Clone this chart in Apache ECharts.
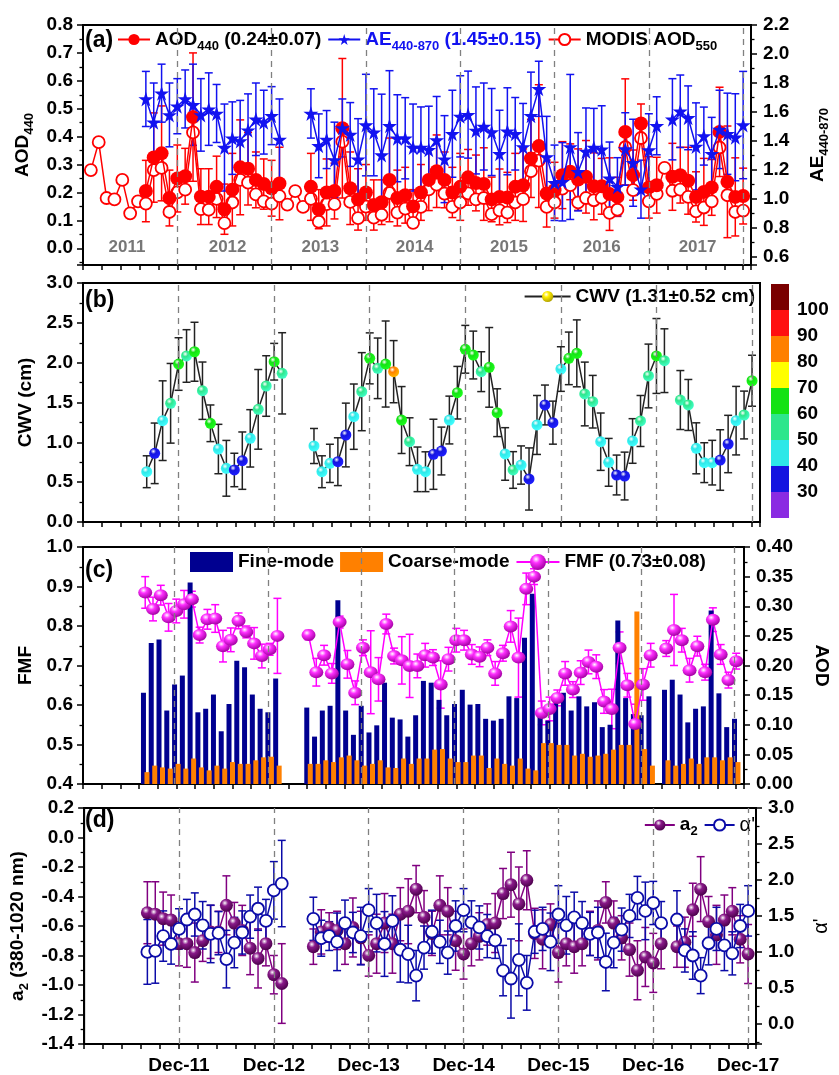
<!DOCTYPE html>
<html>
<head>
<meta charset="utf-8">
<script src="https://cdn.jsdelivr.net/npm/echarts@6.0.0/dist/echarts.min.js"></script>
<style>
  html, body { margin: 0; padding: 0; background: #fff; }
  #chart { width: 839px; height: 1075px; }
</style>
</head>
<body>
<div id="chart"></div>
<script>
// x = month index, 0 = Dec-2010, 12 = Dec-2011 ...
const decTicks = [12, 24, 36, 48, 60, 72, 84];
const decLabels = ['Dec-11', 'Dec-12', 'Dec-13', 'Dec-14', 'Dec-15', 'Dec-16', 'Dec-17'];
const yearLabels = ['2011', '2012', '2013', '2014', '2015', '2016', '2017'];
const yearPos = [5.6, 18.4, 30.2, 42.2, 54.2, 66, 78.2];

// MODIS AOD550, monthly from month 1
const modisStart = 1;
const modisAod = [
  0.28, 0.38, 0.18, 0.175, 0.245, 0.125, 0.168, 0.16, 0.28, 0.288,
  0.13, 0.2, 0.21, 0.415, 0.14, 0.138, 0.177, 0.09, 0.164, 0.245,
  0.235, 0.193, 0.168, 0.16, 0.187, 0.156, 0.205, 0.148, 0.177, 0.095,
  0.158, 0.158, 0.382, 0.166, 0.108, 0.149, 0.11, 0.12, 0.198, 0.128,
  0.142, 0.091, 0.148, 0.211, 0.228, 0.196, 0.148, 0.164, 0.197, 0.175,
  0.18, 0.122, 0.136, 0.128, 0.164, 0.176, 0.276, 0.314, 0.148, 0.164,
  0.214, 0.226, 0.164, 0.18, 0.172, 0.181, 0.127, 0.138, 0.362, 0.208,
  0.395, 0.168, 0.195, 0.288, 0.206, 0.21, 0.184, 0.132, 0.146, 0.168,
  0.361, 0.19, 0.13, 0.135
];

// AERONET monthly values from month 8 (null = no data)
const aeroStart = 8;
const aod440 = [
  0.205, 0.325, 0.34, 0.18, 0.25, 0.258, 0.47, 0.185, 0.185, 0.22,
  0.14, 0.21, 0.29, 0.285, 0.245, 0.23, 0.215, 0.232, null, null,
  null, 0.22, 0.14, 0.2, 0.205, 0.43, 0.215, 0.175, 0.2, 0.155,
  0.165, 0.245, 0.18, 0.19, 0.15, 0.2, 0.245, 0.276, 0.245, 0.2,
  0.22, 0.254, 0.234, 0.23, 0.175, 0.184, 0.182, 0.22, 0.226, 0.322,
  0.366, 0.196, 0.208, 0.262, 0.274, 0.246, 0.256, 0.222, 0.222, 0.194,
  0.184, 0.417, 0.262, 0.447, 0.218, 0.226, null, 0.256, 0.262, 0.242,
  0.184, 0.202, 0.218, 0.417, 0.238, 0.184, 0.187
];
const aodErr = [
  0.11, 0.16, 0.17, 0.1, 0.12, 0.1, 0.23, 0.1, 0.1, 0.11,
  0.09, 0.13, 0.17, 0.13, 0.1, 0.09, 0.1, 0.13, null, null,
  null, 0.12, 0.07, 0.12, 0.1, 0.25, 0.13, 0.11, 0.1, 0.09,
  0.08, 0.15, 0.1, 0.1, 0.06, 0.1, 0.11, 0.13, 0.1, 0.09,
  0.12, 0.1, 0.1, 0.13, 0.08, 0.1, 0.09, 0.12, 0.13, 0.14,
  0.22, 0.12, 0.1, 0.12, 0.1, 0.11, 0.13, 0.12, 0.1, 0.13,
  0.07, 0.19, 0.09, 0.07, 0.11, 0.1, null, 0.12, 0.1, 0.12,
  0.09, 0.12, 0.1, 0.16, 0.2, 0.14, 0.1
];
const ae440870 = [
  1.69, 1.53, 1.73, 1.58, 1.64, 1.69, 1.65, 1.58, 1.62, 1.59,
  1.355, 1.42, 1.4, 1.475, 1.55, 1.53, 1.575, 1.41, null, null,
  null, 1.59, 1.367, 1.41, 1.27, 1.49, 1.445, 1.274, 1.51, 1.46,
  1.303, 1.505, 1.419, 1.419, 1.355, 1.355, 1.34, 1.407, 1.275, 1.45,
  1.57, 1.582, 1.473, 1.5, 1.462, 1.312, 1.467, 1.45, 1.359, 1.575,
  1.76, 1.29, 1.112, 1.119, 1.359, 1.188, 1.328, 1.355, 1.343, 1.143,
  1.085, 1.345, 1.25, 1.068, 1.338, 1.505, null, 1.55, 1.605, 1.56,
  1.363, 1.434, 1.313, 1.48, 1.45, 1.426, 1.51
];
const aeErr = [
  0.19, 0.27, 0.2, 0.22, 0.19, 0.2, 0.28, 0.25, 0.25, 0.2,
  0.3, 0.25, 0.28, 0.25, 0.25, 0.22, 0.2, 0.28, null, null,
  null, 0.17, 0.22, 0.2, 0.26, 0.2, 0.22, 0.28, 0.35, 0.3,
  0.42, 0.38, 0.3, 0.28, 0.3, 0.28, 0.3, 0.3, 0.3, 0.3,
  0.28, 0.3, 0.3, 0.3, 0.3, 0.3, 0.3, 0.25, 0.3, 0.3,
  0.19, 0.28, 0.26, 0.27, 0.5, 0.27, 0.3, 0.27, 0.3, 0.25,
  0.2, 0.25, 0.3, 0.2, 0.25, 0.2, null, 0.28, 0.25, 0.22,
  0.3, 0.2, 0.25, 0.27, 0.28, 0.3, 0.37
];
const cwv = [
  0.631, 0.862, 1.272, 1.49, 1.983, 2.084, 2.137, 1.648, 1.239, 0.916,
  0.674, 0.653, 0.77, 1.05, 1.414, 1.707, 2.012, 1.866, null, null,
  null, 0.954, 0.631, 0.736, 0.757, 1.092, 1.322, 1.636, 2.054, 1.929,
  1.983, 1.887, 1.28, 1.008, 0.661, 0.631, 0.85, 0.891, 1.28, 1.623,
  2.168, 2.096, 1.887, 1.941, 1.372, 0.854, 0.653, 0.715, 0.54, 1.218,
  1.469, 1.247, 1.92, 2.054, 2.117, 1.607, 1.51, 1.008, 0.749, 0.59,
  0.577, 1.017, 1.268, 1.833, 2.084, 2.025, null, 1.531, 1.469, 0.925,
  0.745, 0.745, 0.778, 0.979, 1.272, 1.343, 1.773
];
const cwvErr = [
  0.2, 0.38, 0.5, 0.5, 0.33, 0.33, 0.37, 0.36, 0.23, 0.31,
  0.35, 0.21, 0.36, 0.36, 0.5, 0.38, 0.23, 0.51, null, null,
  null, 0.22, 0.2, 0.24, 0.3, 0.4, 0.41, 0.49, 0.32, 0.38,
  0.54, 0.39, 0.42, 0.3, 0.28, 0.25, 0.44, 0.3, 0.3, 0.33,
  0.3, 0.3, 0.25, 0.5, 0.3, 0.33, 0.23, 0.24, 0.39, 0.37,
  0.25, 0.27, 0.28, 0.33, 0.42, 0.4, 0.33, 0.36, 0.3, 0.25,
  0.3, 0.28, 0.32, 0.4, 0.47, 0.4, null, 0.37, 0.32, 0.32,
  0.25, 0.28, 0.38, 0.36, 0.43, 0.3, 0.32
];
// colour-bar value of each CWV point
const cwvColorVal = [
  45, 35, 45, 55, 65, 55, 65, 55, 65, 45,
  45, 35, 35, 45, 55, 55, 65, 55, null, null,
  null, 45, 45, 45, 35, 35, 45, 55, 65, 55,
  65, 85, 65, 55, 45, 45, 35, 35, 45, 65,
  65, 65, 55, 65, 65, 45, 55, 45, 35, 45,
  35, 35, 45, 65, 65, 55, 55, 45, 45, 35,
  35, 45, 55, 55, 65, 55, null, 55, 55, 45,
  45, 45, 35, 35, 45, 55, 65
];
const fineAod = [
  0.154, 0.238, 0.244, 0.124, 0.168, 0.183, 0.34, 0.121, 0.127, 0.151,
  0.089, 0.135, 0.208, 0.197, 0.151, 0.127, 0.121, 0.178, null, null,
  null, 0.129, 0.08, 0.124, 0.132, 0.31, 0.124, 0.083, 0.132, 0.087,
  0.099, 0.171, 0.112, 0.109, 0.08, 0.116, 0.174, 0.171, 0.142, 0.116,
  0.135, 0.159, 0.134, 0.135, 0.11, 0.107, 0.11, 0.148, 0.145, 0.247,
  0.321, 0.119, 0.107, 0.152, 0.154, 0.124, 0.148, 0.131, 0.138, 0.096,
  0.1, 0.276, 0.145, 0.118, 0.116, 0.148, null, 0.159, 0.176, 0.151,
  0.104, 0.127, 0.131, 0.293, 0.153, 0.096, 0.11
];
const coarseAod = [
  0.02, 0.031, 0.028, 0.026, 0.034, 0.026, 0.043, 0.028, 0.023, 0.031,
  0.026, 0.037, 0.034, 0.034, 0.04, 0.045, 0.046, 0.031, null, null,
  null, 0.034, 0.034, 0.04, 0.037, 0.045, 0.048, 0.04, 0.031, 0.034,
  0.04, 0.028, 0.027, 0.043, 0.034, 0.043, 0.043, 0.058, 0.059, 0.043,
  0.037, 0.037, 0.048, 0.048, 0.027, 0.043, 0.034, 0.031, 0.043, 0.026,
  0.023, 0.069, 0.069, 0.066, 0.066, 0.048, 0.051, 0.046, 0.048, 0.051,
  0.058, 0.066, 0.066, 0.291, 0.059, 0.031, null, 0.04, 0.031, 0.034,
  0.043, 0.034, 0.045, 0.045, 0.04, 0.045, 0.037
];
const fmf = [
  0.885, 0.843, 0.878, 0.822, 0.838, 0.855, 0.868, 0.777, 0.817, 0.819,
  0.749, 0.765, 0.813, 0.785, 0.756, 0.724, 0.741, 0.775, null, null,
  null, 0.777, 0.683, 0.726, 0.68, 0.81, 0.703, 0.631, 0.745, 0.683,
  0.665, 0.805, 0.724, 0.713, 0.699, 0.699, 0.726, 0.72, 0.652, 0.716,
  0.764, 0.764, 0.728, 0.722, 0.745, 0.68, 0.731, 0.799, 0.72, 0.894,
  0.925, 0.58, 0.59, 0.618, 0.68, 0.639, 0.682, 0.709, 0.697, 0.609,
  0.59, 0.745, 0.65, 0.552, 0.652, 0.726, null, 0.743, 0.79, 0.764,
  0.688, 0.749, 0.683, 0.816, 0.728, 0.663, 0.711
];
const fmfErr = [
  0.04, 0.03, 0.025, 0.035, 0.03, 0.035, 0.02, 0.02, 0.025, 0.035,
  0.04, 0.03, 0.02, 0.015, 0.04, 0.03, 0.015, 0.095, null, null,
  null, 0.012, 0.035, 0.025, 0.025, 0.015, 0.035, 0.03, 0.02, 0.105,
  0.055, 0.025, 0.02, 0.06, 0.08, 0.03, 0.03, 0.02, 0.06, 0.03,
  0.03, 0.025, 0.025, 0.025, 0.02, 0.03, 0.02, 0.04, 0.1, 0.04,
  0.02, 0.03, 0.03, 0.02, 0.03, 0.02, 0.03, 0.03, 0.03, 0.03,
  0.05, 0.04, 0.03, 0.05, 0.04, 0.03, null, 0.02, 0.09, 0.03,
  0.03, 0.025, 0.02, 0.03, 0.025, 0.02, 0.02
];
const a2 = [
  -0.51, -0.52, -0.55, -0.56, -0.72, -0.72, -0.78, -0.7, -0.64, -0.64,
  -0.46, -0.58, -0.63, -0.75, -0.82, -0.72, -0.93, -0.99, null, null,
  null, -0.74, -0.64, -0.61, -0.63, -0.72, -0.61, -0.68, -0.8, -0.72,
  -0.58, -0.72, -0.52, -0.5, -0.35, -0.54, -0.65, -0.46, -0.5, -0.7,
  -0.79, -0.72, -0.67, -0.59, -0.58, -0.38, -0.32, -0.45, -0.29, -0.65,
  -0.69, -0.59, -0.78, -0.72, -0.74, -0.72, -0.65, -0.63, -0.44, -0.58,
  -0.68, -0.76, -0.9, -0.81, -0.85, -0.72, null, -0.74, -0.71, -0.49,
  -0.35, -0.57, -0.66, -0.56, -0.5, -0.69, -0.79
];
const a2Err = [
  0.21, 0.22, 0.18, 0.17, 0.15, 0.16, 0.2, 0.14, 0.18, 0.14,
  0.2, 0.14, 0.17, 0.18, 0.2, 0.15, 0.13, 0.27, null, null,
  null, 0.12, 0.15, 0.1, 0.13, 0.14, 0.2, 0.18, 0.14, 0.2,
  0.2, 0.2, 0.18, 0.22, 0.16, 0.18, 0.15, 0.2, 0.16, 0.2,
  0.17, 0.15, 0.16, 0.14, 0.2, 0.17, 0.22, 0.25, 0.2, 0.17,
  0.2, 0.14, 0.2, 0.15, 0.18, 0.15, 0.15, 0.2, 0.14, 0.15,
  0.15, 0.18, 0.2, 0.2, 0.2, 0.17, null, 0.14, 0.17, 0.18,
  0.22, 0.17, 0.2, 0.17, 0.16, 0.16, 0.2
];
const alphaP = [
  1.0, 1.015, 1.22, 1.11, 1.32, 1.45, 1.52, 1.37, 1.25, 1.26,
  0.9, 1.13, 1.27, 1.49, 1.6, 1.43, 1.855, 1.95, null, null,
  null, 1.46, 1.19, 1.22, 1.14, 1.4, 1.27, 1.22, 1.58, 1.4,
  1.11, 1.43, 1.03, 0.97, 0.67, 1.06, 1.28, 1.14, 0.99, 1.36,
  1.58, 1.41, 1.34, 1.22, 1.16, 0.74, 0.63, 0.89, 0.57, 1.28,
  1.32, 1.14, 1.52, 1.37, 1.48, 1.4, 1.25, 1.27, 0.86, 1.13,
  1.31, 1.5, 1.75, 1.57, 1.68, 1.4, null, 1.45, 1.02, 0.95,
  0.67, 1.12, 1.32, 1.09, 0.98, 1.36, 1.57
];
const alphaErr = [
  0.45, 0.45, 0.35, 0.28, 0.28, 0.28, 0.3, 0.33, 0.4, 0.3,
  0.4, 0.35, 0.3, 0.3, 0.3, 0.3, 0.4, 0.6, null, null,
  null, 0.3, 0.25, 0.2, 0.4, 0.32, 0.28, 0.4, 0.3, 0.4,
  0.45, 0.35, 0.45, 0.4, 0.35, 0.3, 0.3, 0.3, 0.3, 0.35,
  0.3, 0.3, 0.3, 0.3, 0.25, 0.35, 0.55, 0.5, 0.38, 0.3,
  0.3, 0.4, 0.4, 0.4, 0.35, 0.3, 0.3, 0.35, 0.4, 0.35,
  0.3, 0.3, 0.3, 0.4, 0.3, 0.3, null, 0.4, 0.3, 0.33,
  0.25, 0.3, 0.3, 0.35, 0.3, 0.3, 0.35
];

// colour bar bands (20-30 ... 100-110)
const cbarBands = [20, 30, 40, 50, 60, 70, 80, 90, 100];
const cbarColors = ['#8a2be2', '#1515e0', '#2ee8e8', '#2ee68c', '#14e214', '#ffff00', '#ff8000', '#ff1010', '#7a0000'];

const FONT = 'Liberation Sans, Arial, sans-serif';
const RED = '#ff0000', BLUE = '#1212f0', NAVY = '#000090', ORANGE = '#ff8000';
const MAGENTA = '#ff00ff', PURPLE = '#800080', DBLUE = '#0b0ba8';
const STAR = 'path://M50,0 L61,35 L98,35 L68,57 L79,91 L50,70 L21,91 L32,57 L2,35 L39,35 Z';

function pts(arr, start) {
  return arr.map((v, i) => [start + i, v == null ? '-' : v]);
}
function errPts(arr, err, start) {
  const out = [];
  arr.forEach((v, i) => { if (v != null) out.push([start + i, v - err[i], v + err[i]]); });
  return out;
}
function sphere(c, dark) {
  return new echarts.graphic.RadialGradient(0.38, 0.32, 0.7, [
    { offset: 0, color: '#ffffff' },
    { offset: 0.35, color: c },
    { offset: 1, color: dark }
  ]);
}
function colorFor(v) {
  for (let i = cbarBands.length - 1; i >= 0; i--) if (v >= cbarBands[i]) return cbarColors[i];
  return cbarColors[0];
}
function errSeries(data, color, xi, yi, cap) {
  return {
    type: 'custom', xAxisIndex: xi, yAxisIndex: yi, data: data, clip: true, silent: true,
    encode: { x: 0, y: [1, 2] },
    renderItem: function (params, api) {
      const x = api.value(0);
      const t = api.coord([x, api.value(2)]);
      const b = api.coord([x, api.value(1)]);
      const st = { stroke: color, lineWidth: 1.5 };
      return {
        type: 'group', children: [
          { type: 'line', shape: { x1: t[0], y1: t[1], x2: b[0], y2: b[1] }, style: st },
          { type: 'line', shape: { x1: t[0] - cap, y1: t[1], x2: t[0] + cap, y2: t[1] }, style: st },
          { type: 'line', shape: { x1: b[0] - cap, y1: b[1], x2: b[0] + cap, y2: b[1] }, style: st }
        ]
      };
    }
  };
}
const decMarkLine = {
  silent: true, symbol: ['none', 'none'], label: { show: false },
  lineStyle: { color: '#808080', type: [6, 5], width: 1.3 },
  data: decTicks.map(v => ({ xAxis: v }))
};

const rich = {
  b: { fontSize: 19, fontWeight: 'bold', color: '#000', fontFamily: FONT, lineHeight: 26 },
  s: { fontSize: 13, fontWeight: 'bold', color: '#000', fontFamily: FONT, lineHeight: 13, verticalAlign: 'bottom' },
  bb: { fontSize: 19, fontWeight: 'bold', color: BLUE, fontFamily: FONT, lineHeight: 26 },
  bs: { fontSize: 13, fontWeight: 'bold', color: BLUE, fontFamily: FONT, lineHeight: 13, verticalAlign: 'bottom' },
  n: { fontSize: 20, fontWeight: 'normal', color: '#000', fontFamily: FONT, lineHeight: 26 }
};

const labelStyle = { fontSize: 19, fontWeight: 'bold', color: '#000', fontFamily: FONT };
const lineAx = { show: true, onZero: false, lineStyle: { color: '#000', width: 2 } };
const tickAx = { show: true, length: 6, lineStyle: { color: '#000', width: 1.5 } };
const minorAx = { show: true, splitNumber: 2, length: 3.5, lineStyle: { color: '#000', width: 1.3 } };

function xAxisFor(gi, withLabels) {
  return {
    type: 'value', gridIndex: gi, min: 0, max: 85, interval: 2.4,
    axisLine: lineAx, axisTick: { show: true, length: 5, lineStyle: { color: '#000', width: 1.5 } },
    splitLine: { show: false },
    axisLabel: withLabels ? Object.assign({
      margin: 12, showMinLabel: true, showMaxLabel: true,
      formatter: function (v) {
        for (let i = 0; i < decTicks.length; i++) if (Math.abs(v - decTicks[i]) < 1e-6) return decLabels[i];
        return '';
      }
    }, labelStyle) : { show: false }
  };
}
function yAxisFor(gi, pos, cfg) {
  return Object.assign({
    type: 'value', gridIndex: gi, position: pos,
    axisLine: lineAx, axisTick: tickAx, minorTick: minorAx, splitLine: { show: false },
    nameLocation: 'middle', nameTextStyle: { rich: rich, fontSize: 19, fontWeight: 'bold', fontFamily: FONT, color: '#000' }
  }, cfg);
}

const grids = [
  { left: 83, right: 79, top: 25, height: 240 },
  { left: 83, right: 79, top: 283, height: 239 },
  { left: 83, right: 79, top: 547, height: 237 },
  { left: 83, right: 79, top: 808, height: 237 },
  { left: 771, width: 18, top: 284, height: 234 }
].map((g, i) => Object.assign({ show: i < 4, borderColor: '#000', borderWidth: 2, backgroundColor: 'transparent' }, g));

const yAxes = [
  yAxisFor(0, 'left', { min: -0.06, max: 0.8, splitNumber: 8, name: '{b|AOD}{s|440}', nameGap: 46,
    axisLabel: Object.assign({ margin: 10, showMinLabel: false, formatter: v => v.toFixed(1) }, labelStyle) }),
  yAxisFor(0, 'right', { min: 0.545, max: 2.2, splitNumber: 8, name: '{b|AE}{s|440-870}', nameGap: 54,
    axisLabel: Object.assign({ margin: 12, showMinLabel: false, formatter: v => v.toFixed(1) }, labelStyle) }),
  yAxisFor(1, 'left', { min: 0, max: 3, interval: 0.5, name: 'CWV (cm)', nameGap: 48,
    axisLabel: Object.assign({ margin: 10, formatter: v => v.toFixed(1) }, labelStyle) }),
  yAxisFor(2, 'left', { min: 0.4, max: 1.0, interval: 0.1, name: 'FMF', nameGap: 48,
    axisLabel: Object.assign({ margin: 10, formatter: v => v.toFixed(1) }, labelStyle) }),
  yAxisFor(2, 'right', { min: 0, max: 0.4, interval: 0.05, name: 'AOD', nameGap: 68, nameRotate: -90,
    axisLabel: Object.assign({ margin: 12, formatter: v => v.toFixed(2) }, labelStyle) }),
  yAxisFor(3, 'left', { min: -1.4, max: 0.2, interval: 0.2, name: '{b|a}{s|2}{b| (380-1020 nm)}', nameGap: 48,
    axisLabel: Object.assign({ margin: 10, formatter: v => v.toFixed(1) }, labelStyle) }),
  yAxisFor(3, 'right', { min: -0.28, max: 3.0, splitNumber: 7, name: "{n|α'}", nameGap: 52,
    axisLabel: Object.assign({ margin: 12, showMinLabel: false, formatter: v => v.toFixed(1) }, labelStyle) }),
  { type: 'value', gridIndex: 4, position: 'right', min: 20, max: 110, interval: 10,
    axisLine: { show: false }, axisTick: { show: false }, splitLine: { show: false },
    axisLabel: Object.assign({ margin: 8, formatter: v => (v >= 30 && v <= 100 ? String(v) : '') }, labelStyle) }
];

const xAxes = [xAxisFor(0, false), xAxisFor(1, false), xAxisFor(2, false), xAxisFor(3, true),
  { type: 'category', gridIndex: 4, data: ['cbar'], show: false }];

const cwvData = cwv.map((v, i) => {
  if (v == null) return { value: [aeroStart + i, '-'] };
  const c = colorFor(cwvColorVal[i]);
  return { value: [aeroStart + i, v], itemStyle: { color: sphere(c, echarts.color.lift(c, -0.45)) } };
});

const series = [
  // (a)
  { name: 'MODIS AOD550', type: 'line', xAxisIndex: 0, yAxisIndex: 0, data: pts(modisAod, modisStart),
    symbol: 'circle', symbolSize: 12, z: 3,
    itemStyle: { color: '#fff', borderColor: RED, borderWidth: 1.8 }, lineStyle: { color: RED, width: 1.5 },
    markLine: decMarkLine },
  errSeries(errPts(aod440, aodErr, aeroStart), RED, 0, 0, 4),
  { name: 'AOD440', type: 'line', xAxisIndex: 0, yAxisIndex: 0, data: pts(aod440, aeroStart),
    symbol: 'circle', symbolSize: 14, z: 4, itemStyle: { color: RED }, lineStyle: { color: RED, width: 1.5 } },
  errSeries(errPts(ae440870, aeErr, aeroStart), BLUE, 0, 1, 4),
  { name: 'AE440-870', type: 'line', xAxisIndex: 0, yAxisIndex: 1, data: pts(ae440870, aeroStart),
    symbol: STAR, symbolSize: 15, z: 5, itemStyle: { color: BLUE }, lineStyle: { color: BLUE, width: 1.5 } },
  { type: 'scatter', xAxisIndex: 0, yAxisIndex: 0, symbolSize: 1, silent: true,
    itemStyle: { color: 'transparent' },
    data: yearPos.map((x, i) => ({ name: yearLabels[i], value: [x, 0.005] })),
    label: { show: true, position: 'inside', formatter: '{b}', color: '#555', fontSize: 17, fontWeight: 'bold', fontFamily: FONT } },
  // (b)
  errSeries(errPts(cwv, cwvErr, aeroStart), '#222', 1, 2, 4),
  { name: 'CWV', type: 'line', xAxisIndex: 1, yAxisIndex: 2, data: cwvData,
    symbol: 'circle', symbolSize: 11, z: 4,
    itemStyle: { color: sphere('#ffee00', '#b0a000') }, lineStyle: { color: '#222', width: 1.5 },
    markLine: decMarkLine },
  // (c)
  { name: 'Fine-mode', type: 'bar', xAxisIndex: 2, yAxisIndex: 4, data: pts(fineAod, aeroStart),
    barWidth: 5, itemStyle: { color: NAVY }, markLine: decMarkLine },
  { name: 'Coarse-mode', type: 'bar', xAxisIndex: 2, yAxisIndex: 4, data: pts(coarseAod, aeroStart),
    barWidth: 5, barGap: '-30%', itemStyle: { color: ORANGE } },
  errSeries(errPts(fmf, fmfErr, aeroStart), MAGENTA, 2, 3, 4),
  { name: 'FMF', type: 'line', xAxisIndex: 2, yAxisIndex: 3, data: pts(fmf, aeroStart),
    symbol: 'circle', symbolSize: [14, 12], z: 4,
    itemStyle: { color: sphere('#ff30ff', '#a000a0') }, lineStyle: { color: MAGENTA, width: 1.5 } },
  // (d)
  errSeries(errPts(a2, a2Err, aeroStart), PURPLE, 3, 5, 4),
  { name: 'a2', type: 'line', xAxisIndex: 3, yAxisIndex: 5, data: pts(a2, aeroStart),
    symbol: 'circle', symbolSize: 13, z: 4,
    itemStyle: { color: sphere('#8a1a8a', '#4a004a') }, lineStyle: { color: PURPLE, width: 1.5 },
    markLine: decMarkLine },
  errSeries(errPts(alphaP, alphaErr, aeroStart), DBLUE, 3, 6, 4),
  { name: "α'", type: 'line', xAxisIndex: 3, yAxisIndex: 6, data: pts(alphaP, aeroStart),
    symbol: 'circle', symbolSize: 12, z: 5,
    itemStyle: { color: '#fff', borderColor: DBLUE, borderWidth: 1.8 }, lineStyle: { color: DBLUE, width: 1.5 } }
];
// colour bar: invisible base up to the first band, then one stacked segment per band
series.push({ type: 'bar', xAxisIndex: 4, yAxisIndex: 7, stack: 'cbar', barWidth: '100%', silent: true,
  data: [cbarBands[0]], itemStyle: { color: 'transparent' } });
cbarBands.forEach((b, i) => {
  series.push({ type: 'bar', xAxisIndex: 4, yAxisIndex: 7, stack: 'cbar', barWidth: '100%', silent: true,
    data: [10], itemStyle: { color: cbarColors[i] } });
});

const legendBase = { orient: 'horizontal', padding: 0, itemGap: 6, itemHeight: 14,
  textStyle: { fontSize: 19, fontWeight: 'bold', color: '#000', fontFamily: FONT, rich: rich }, selectedMode: false };
const legendText = {
  'AOD440': '{b|AOD}{s|440}{b| (0.24±0.07)}',
  'AE440-870': '{bb|AE}{bs|440-870}{bb| (1.45±0.15)}',
  'MODIS AOD550': '{b|MODIS AOD}{s|550}',
  'CWV': '{b|CWV (1.31±0.52 cm)}',
  'Fine-mode': '{b|Fine-mode}',
  'Coarse-mode': '{b|Coarse-mode}',
  'FMF': '{b|FMF (0.73±0.08)}',
  'a2': '{b|a}{s|2}',
  "α'": "{n|α'}"
};
const fmt = name => legendText[name];

const option = {
  animation: false,
  backgroundColor: '#fff',
  textStyle: { fontFamily: FONT },
  title: [
    { text: '(a)', left: 85, top: 29 },
    { text: '(b)', left: 85, top: 289 },
    { text: '(c)', left: 85, top: 559 },
    { text: '(d)', left: 85, top: 809 }
  ].map(t => Object.assign({ padding: 0, textStyle: { fontSize: 23, fontWeight: 'bold', color: '#000', fontFamily: FONT } }, t)),
  legend: [
    Object.assign({}, legendBase, { left: 117, top: 30, itemWidth: 32, formatter: fmt,
      data: ['AOD440', 'AE440-870', 'MODIS AOD550'] }),
    Object.assign({}, legendBase, { right: 84, top: 287, itemWidth: 46, formatter: fmt, data: ['CWV'] }),
    Object.assign({}, legendBase, { left: 190, top: 552, itemWidth: 43, itemHeight: 20, formatter: fmt,
      data: [{ name: 'Fine-mode', icon: 'rect' }, { name: 'Coarse-mode', icon: 'rect' }, { name: 'FMF' }] }),
    Object.assign({}, legendBase, { right: 84, top: 815, itemWidth: 30, formatter: fmt, data: ['a2', "α'"] })
  ],
  grid: grids,
  xAxis: xAxes,
  yAxis: yAxes,
  series: series
};

const chart = echarts.init(document.getElementById('chart'), null, { renderer: 'canvas' });
chart.setOption(option);
</script>
</body>
</html>
